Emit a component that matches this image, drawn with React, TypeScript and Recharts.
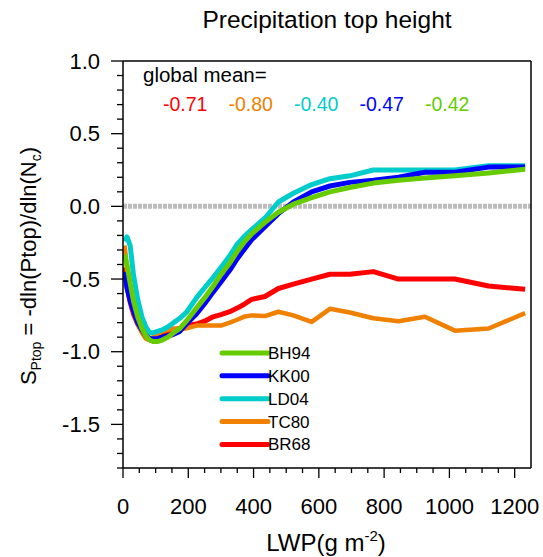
import { LineChart, Line, XAxis, YAxis, ReferenceLine, Legend } from "recharts";

const lwp = [5, 12, 22, 32, 45, 58, 70, 82, 92, 105, 120, 137, 155, 174, 194, 225, 250, 276, 300, 327, 350, 370, 394, 435, 476, 522, 578, 634, 695, 767, 844, 925, 1017, 1120, 1232];
const bh94 = [-0.33, -0.4, -0.53, -0.65, -0.76, -0.84, -0.89, -0.92, -0.93, -0.93, -0.92, -0.9, -0.87, -0.84, -0.79, -0.7, -0.63, -0.55, -0.47, -0.39, -0.31, -0.25, -0.19, -0.11, -0.04, 0.015, 0.06, 0.1, 0.13, 0.16, 0.18, 0.195, 0.21, 0.23, 0.255];
const kk00 = [-0.45, -0.56, -0.65, -0.72, -0.8, -0.85, -0.89, -0.91, -0.91, -0.91, -0.9, -0.89, -0.88, -0.86, -0.81, -0.74, -0.67, -0.59, -0.52, -0.44, -0.36, -0.3, -0.23, -0.14, -0.05, 0.03, 0.1, 0.14, 0.165, 0.18, 0.2, 0.235, 0.235, 0.27, 0.27];
const ld04 = [-0.24, -0.21, -0.27, -0.47, -0.64, -0.76, -0.83, -0.87, -0.87, -0.86, -0.85, -0.83, -0.8, -0.77, -0.73, -0.63, -0.56, -0.49, -0.42, -0.34, -0.26, -0.21, -0.16, -0.08, 0.03, 0.09, 0.15, 0.19, 0.21, 0.25, 0.25, 0.25, 0.25, 0.28, 0.28];
const tc80 = [-0.27, -0.42, -0.6, -0.72, -0.81, -0.87, -0.91, -0.92, -0.9, -0.88, -0.86, -0.85, -0.84, -0.84, -0.84, -0.82, -0.82, -0.82, -0.82, -0.8, -0.78, -0.76, -0.75, -0.755, -0.725, -0.75, -0.795, -0.705, -0.73, -0.77, -0.79, -0.76, -0.855, -0.84, -0.735];
const br68 = [-0.42, -0.55, -0.66, -0.74, -0.81, -0.86, -0.9, -0.92, -0.92, -0.91, -0.89, -0.87, -0.85, -0.84, -0.82, -0.81, -0.79, -0.76, -0.745, -0.725, -0.7, -0.675, -0.64, -0.62, -0.565, -0.535, -0.5, -0.467, -0.467, -0.449, -0.5, -0.5, -0.5, -0.548, -0.571];

const xTicks = [0, 50, 100, 150, 200, 250, 300, 350, 400, 450, 500, 550, 600, 650, 700, 750, 800, 850, 900, 950, 1000, 1050, 1100, 1150, 1200];
const yTicks = [-1.8, -1.7, -1.6, -1.5, -1.4, -1.3, -1.2, -1.1, -1.0, -0.9, -0.8, -0.7, -0.6, -0.5, -0.4, -0.3, -0.2, -0.1, 0.0, 0.1, 0.2, 0.3, 0.4, 0.5, 0.6, 0.7, 0.8, 0.9, 1.0];

const legendNames = ["BH94", "KK00", "LD04", "TC80", "BR68"];
const legendColors = ["#66cc00", "#0000ff", "#00cccc", "#f08000", "#ff0000"];
const meanValues = ["-0.71", "-0.80", "-0.40", "-0.47", "-0.42"];
const meanColors = ["#ff0000", "#f08000", "#00cccc", "#0000ff", "#66cc00"];

const data = lwp.map((x, i) => ({
  lwp: x,
  BH94: bh94[i],
  KK00: kk00[i],
  LD04: ld04[i],
  TC80: tc80[i],
  BR68: br68[i],
}));

const FONT = "'Liberation Sans', Arial, Helvetica, sans-serif";

function XTick(props: any) {
  const { x, y, payload } = props;
  const major = payload.value % 200 === 0;
  return (
    <g>
      <line x1={x} x2={x} y1={y} y2={y + (major ? 10 : 5)} stroke="#000" strokeWidth={1.3} />
      {major && (
        <text x={x} y={y + 46} textAnchor="middle" fontSize={22} fontFamily={FONT} fill="#000">
          {payload.value}
        </text>
      )}
    </g>
  );
}

function YTick(props: any) {
  const { x, y, payload } = props;
  const v = payload.value;
  const major = Math.abs(v * 2 - Math.round(v * 2)) < 1e-6;
  return (
    <g>
      <line x1={x - (major ? 12 : 6)} x2={x} y1={y} y2={y} stroke="#000" strokeWidth={1.3} />
      {major && (
        <text x={x - 23} y={y} textAnchor="end" dominantBaseline="central" fontSize={22} fontFamily={FONT} fill="#000">
          {v.toFixed(1)}
        </text>
      )}
    </g>
  );
}

function LegendBox() {
  return (
    <svg width={110} height={120} style={{ display: "block" }}>
      {legendNames.map((n, i) => {
        const ly = 13 + i * 22.85;
        return (
          <g key={n}>
            <line x1={4} x2={50} y1={ly} y2={ly} stroke={legendColors[i]} strokeWidth={5} strokeLinecap="round" />
            <text x={50} y={ly + 6} fontSize={17} fontFamily={FONT} fill="#000">
              {n}
            </text>
          </g>
        );
      })}
    </svg>
  );
}

export default function App() {
  return (
    <div style={{ position: "absolute", left: 0, top: 0, width: 543, height: 557, background: "#fff" }}>
      <LineChart width={543} height={557} data={data} margin={{ top: 61, right: 12, bottom: 0, left: 0 }}>
        <XAxis
          dataKey="lwp"
          type="number"
          domain={[0, 1250]}
          ticks={xTicks}
          interval={0}
          height={89}
          tickSize={0}
          tickMargin={0}
          tickLine={false}
          tick={<XTick />}
          axisLine={{ stroke: "#000", strokeWidth: 1.5 }}
          allowDataOverflow
        />
        <YAxis
          type="number"
          domain={[-1.8, 1.0]}
          ticks={yTicks}
          interval={0}
          width={123}
          tickSize={0}
          tickMargin={0}
          tickLine={false}
          tick={<YTick />}
          axisLine={{ stroke: "#000", strokeWidth: 1.5 }}
          allowDataOverflow
        />
        <ReferenceLine y={0} stroke="#bcbcbc" strokeWidth={5} strokeDasharray="4 1" />
        <ReferenceLine x={1250} stroke="#000" strokeWidth={1.5} />
        <ReferenceLine y={1.0} stroke="#000" strokeWidth={1.5} />
        <Legend
          layout="vertical"
          align="center"
          verticalAlign="middle"
          content={() => <LegendBox />}
          wrapperStyle={{ left: 218, top: 340, width: 110, height: 120 }}
        />
        <Line dataKey="BR68" name="BR68" type="linear" stroke="#ff0000" strokeWidth={5} dot={false} strokeLinejoin="round" isAnimationActive={false} />
        <Line dataKey="TC80" name="TC80" type="linear" stroke="#f08000" strokeWidth={4.5} dot={false} strokeLinejoin="round" isAnimationActive={false} />
        <Line dataKey="LD04" name="LD04" type="linear" stroke="#00cccc" strokeWidth={5} dot={false} strokeLinejoin="round" isAnimationActive={false} />
        <Line dataKey="KK00" name="KK00" type="linear" stroke="#0000ff" strokeWidth={5} dot={false} strokeLinejoin="round" isAnimationActive={false} />
        <Line dataKey="BH94" name="BH94" type="linear" stroke="#66cc00" strokeWidth={5} dot={false} strokeLinejoin="round" isAnimationActive={false} />
      </LineChart>
      <svg
        width={543}
        height={557}
        style={{ position: "absolute", left: 0, top: 0, pointerEvents: "none" }}
        fontFamily={FONT}
      >
        <text x={327} y={28} textAnchor="middle" fontSize={24.5} fill="#000">
          Precipitation top height
        </text>
        <text x={143} y={82} fontSize={20.5} fill="#000">
          global mean=
        </text>
        {meanValues.map((m, i) => (
          <text key={i} x={163 + i * 65.5} y={111} fontSize={19.5} fill={meanColors[i]}>
            {m}
          </text>
        ))}
        <text
          x={36}
          y={266}
          textAnchor="middle"
          fontSize={22}
          fill="#000"
          transform="rotate(-90, 36, 266)"
        >
          S<tspan fontSize={14} dy={5}>Ptop</tspan>
          <tspan dy={-5}> = -dln(Ptop)/dln(N</tspan>
          <tspan fontSize={14} dy={5}>c</tspan>
          <tspan dy={-5}>)</tspan>
        </text>
        <text x={326} y={551} textAnchor="middle" fontSize={24} fill="#000">
          LWP(g m<tspan fontSize={15} dy={-10}>-2</tspan>
          <tspan dy={10}>)</tspan>
        </text>
      </svg>
    </div>
  );
}
